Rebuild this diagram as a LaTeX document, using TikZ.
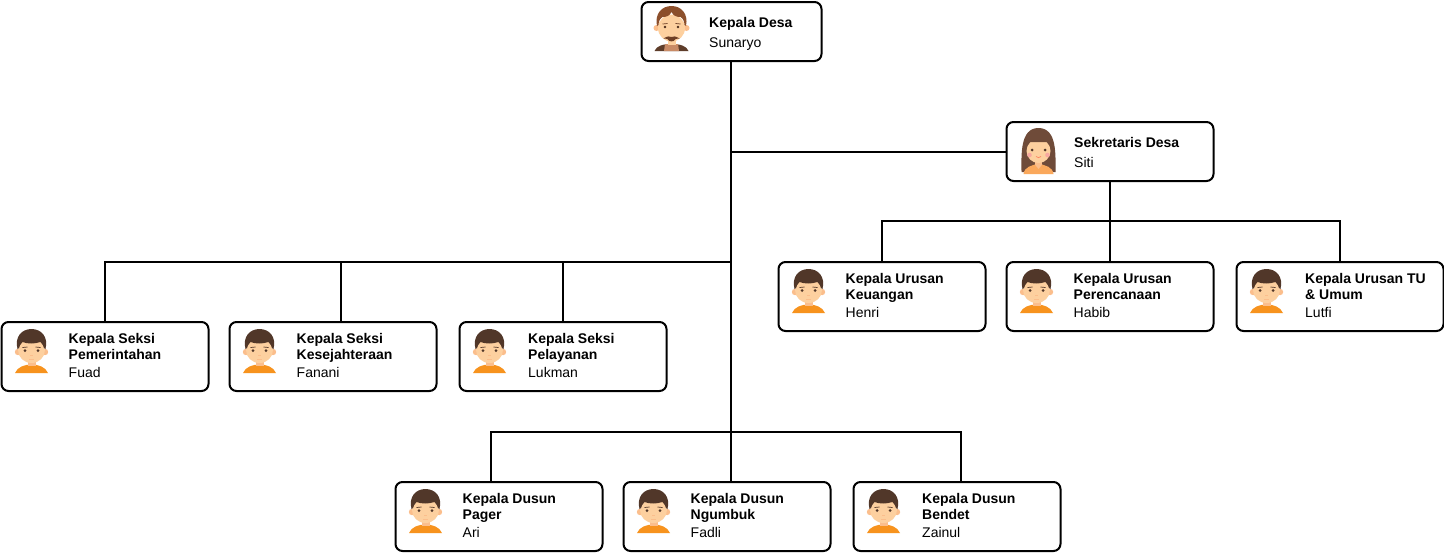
\documentclass[tikz,border=0pt]{standalone}
\usepackage{fontspec}
\setmainfont{Liberation Sans}
\usepackage{xcolor}
\usetikzlibrary{positioning}

\definecolor{skin}{HTML}{FDD09F}
\definecolor{skindark}{HTML}{FBBE8C}
\definecolor{hairboy}{HTML}{513729}
\definecolor{hairman}{HTML}{8C4F2B}
\definecolor{hairgirl}{HTML}{6F4B39}
\definecolor{beard}{HTML}{6E3F25}
\definecolor{jacket}{HTML}{5E3D2A}
\definecolor{vest}{HTML}{C98B66}
\definecolor{shirt}{HTML}{F7931E}
\definecolor{blouse}{HTML}{FAA85C}
\definecolor{cheek}{HTML}{F7A8A0}

\tikzset{
  box/.style={draw, line width=2pt, rounded corners=7pt, fill=white, minimum width=207pt, minimum height=69pt, inner sep=0pt, outer sep=0pt},
  shortbox/.style={box, minimum height=59pt},
  caption/.style={anchor=west, xshift=67pt, yshift=1pt, align=left, inner sep=0pt, font=\fontsize{14}{16}\selectfont},
  widecaption/.style={caption, xshift=1.5pt},
  shortcaption/.style={caption, xshift=.5pt, yshift=-2pt},
  wire/.style={line width=2pt},
  boy/.pic={
    \fill [shirt] (-16.5,22) .. controls (-14,16) and (-7,13.5) .. (0,13.5) .. controls (7,13.5) and (14,16) .. (16.5,22) -- cycle;
    \fill [skindark] (-4,8) rectangle (4,15);
    \fill [skindark] (-13.5,1) circle (3.2) (13.5,1) circle (3.2);
    \fill [skin] (0,-1) ellipse [x radius=13.5, y radius=13];
    \fill [hairboy] (-14,-2) .. controls (-17,-14) and (-10,-22) .. (0,-22) .. controls (10,-22) and (17,-14) .. (14,-2) -- (12.5,-3) .. controls (12,-5) and (11,-7) .. (9,-9) .. controls (3,-7) and (-4,-7) .. (-9,-9) .. controls (-11,-7) and (-12,-5) .. (-12.5,-3) -- cycle;
    \fill [hairboy] (-6.5,-.5) circle (1.5) (6.5,-.5) circle (1.5);
    \draw [hairboy, line width=.7pt] (-9,-3.5) -- (-4,-4) (9,-3.5) -- (4,-4);
    \fill [skindark] (-1.5,4) rectangle (1.5,5.2);
    \draw [skindark, line width=.7pt] (-2.5,8.5) -- (2.5,8.5);
  },
  man/.pic={
    \fill [jacket] (-17,22) .. controls (-15,17) and (-9,15) .. (0,15) .. controls (9,15) and (15,17) .. (17,22) -- cycle;
    \fill [vest] (-7.5,22) -- (-6.5,15) -- (6.5,15) -- (7.5,22) -- cycle;
    \fill [skin] (-4,8) rectangle (4,16);
    \fill [skindark] (-15,-1) circle (3) (15,-1) circle (3);
    \fill [skin] (0,-1) ellipse [x radius=13.5, y radius=13.5];
    \fill [hairman] (-14.5,-3) .. controls (-17,-15) and (-10,-23) .. (0,-23) .. controls (10,-23) and (17,-15) .. (14.5,-3) -- (13,-4) .. controls (13,-8) and (11,-11) .. (9,-12) .. controls (5,-12) and (2,-13) .. (0,-17) .. controls (-2,-13) and (-5,-12) .. (-9,-12) .. controls (-11,-11) and (-13,-8) .. (-13,-4) -- cycle;
    \fill [beard!70!black] (-6.5,-2) circle (1.4) (6.5,-2) circle (1.4);
    \draw [beard, line width=.7pt] (-9,-5) -- (-4,-5.5) (9,-5) -- (4,-5.5);
    \fill [beard] (-8,9.5) .. controls (-4,7) and (-2,7) .. (0,8) .. controls (2,7) and (4,7) .. (8,9.5) .. controls (5,9.5) and (4,10) .. (3.5,10.5) .. controls (3,13) and (-3,13) .. (-3.5,10.5) .. controls (-4,10) and (-5,9.5) .. (-8,9.5) -- cycle;
  },
  girl/.pic={
    \fill [hairgirl] (-17,21) .. controls (-17,5) and (-19,-23) .. (0,-23) .. controls (19,-23) and (17,5) .. (17,21) -- cycle;
    \fill [blouse] (-15,23) .. controls (-14,16) and (-7,14) .. (0,13) .. controls (7,14) and (14,16) .. (15,23) -- cycle;
    \fill [skindark] (-3.5,7) rectangle (3.5,14);
    \fill [skindark] (0,18) -- (-4,13) -- (4,13) -- cycle;
    \fill [skin] (0,0) ellipse [x radius=12, y radius=12];
    \fill [hairgirl] (-12.5,-2) .. controls (-12,-12) and (-6,-17) .. (0,-17) .. controls (6,-17) and (12,-12) .. (12.5,-2) -- (11,-9) -- (-11,-9) -- cycle;
    \fill [hairboy] (-6.5,-1) circle (1.5) (6.5,-1) circle (1.5);
    \fill [cheek] (-9,4) circle (2.3) (9,4) circle (2.3);
    \draw [skindark!70!red, line width=.7pt] (-2.5,5.5) .. controls (-1,7) and (1,7) .. (2.5,5.5);
  },
}

\begin{document}
\begin{tikzpicture}[x=1pt, y=-1pt, node distance=20pt]
\useasboundingbox (0,0) rectangle (1444,552);

% top of the tree
\node (sunaryo) [shortbox, minimum width=180pt] at (731.5,31.5) {};
\node (sunaryo text) [shortcaption, yshift=-1pt] at (sunaryo.west) {\textbf{Kepala Desa}\\[4pt]Sunaryo};
\pic at ([shift={(30pt,2.5pt)}]sunaryo.west) {man};

\node (siti) [shortbox] at (1110,151.5) {};
\node (siti text) [shortcaption] at (siti.west) {\textbf{Sekretaris Desa}\\[4pt]Siti};
\pic at ([shift={(32pt,.5pt)}]siti.west) {girl};

% urusan row
\node (habib) [box] at (1110,296.5) {};
\node (habib text) [caption] at (habib.west) {\textbf{Kepala Urusan}\\\textbf{Perencanaan}\\[2pt]Habib};
\pic at ([shift={(30pt,5.5pt)}]habib.west) {boy};

\node (henri) [box, left=21pt of habib] {};
\node (henri text) [caption] at (henri.west) {\textbf{Kepala Urusan}\\\textbf{Keuangan}\\[2pt]Henri};
\pic at ([shift={(30pt,5.5pt)}]henri.west) {boy};

\node (lutfi) [box, right=23pt of habib] {};
\node (lutfi text) [widecaption] at (lutfi.west) {\textbf{Kepala Urusan TU}\\\textbf{\& Umum}\\[2pt]Lutfi};
\pic at ([shift={(30pt,5.5pt)}]lutfi.west) {boy};

% seksi row
\node (fuad) [box] at (105,356.5) {};
\node (fuad text) [caption] at (fuad.west) {\textbf{Kepala Seksi}\\\textbf{Pemerintahan}\\[2pt]Fuad};
\pic at ([shift={(30pt,5.5pt)}]fuad.west) {boy};

\node (fanani) [box, right=21pt of fuad] {};
\node (fanani text) [caption] at (fanani.west) {\textbf{Kepala Seksi}\\\textbf{Kesejahteraan}\\[2pt]Fanani};
\pic at ([shift={(30pt,5.5pt)}]fanani.west) {boy};

\node (lukman) [box, right=23pt of fanani] {};
\node (lukman text) [widecaption] at (lukman.west) {\textbf{Kepala Seksi}\\\textbf{Pelayanan}\\[2pt]Lukman};
\pic at ([shift={(30pt,5.5pt)}]lukman.west) {boy};

% dusun row
\node (ari) [box] at (499,516.5) {};
\node (ari text) [caption] at (ari.west) {\textbf{Kepala Dusun}\\\textbf{Pager}\\[2pt]Ari};
\pic at ([shift={(30pt,5.5pt)}]ari.west) {boy};

\node (fadli) [box, right=21pt of ari] {};
\node (fadli text) [caption] at (fadli.west) {\textbf{Kepala Dusun}\\\textbf{Ngumbuk}\\[2pt]Fadli};
\pic at ([shift={(30pt,5.5pt)}]fadli.west) {boy};

\node (zainul) [box, right=23pt of fadli] {};
\node (zainul text) [widecaption] at (zainul.west) {\textbf{Kepala Dusun}\\\textbf{Bendet}\\[2pt]Zainul};
\pic at ([shift={(30pt,5.5pt)}]zainul.west) {boy};

\coordinate (trunk) at ([xshift=-.5pt]sunaryo.south);
\coordinate (seksi bus) at (731,262);
\coordinate (urusan bus) at (1110,221);
\coordinate (dusun bus) at (731,432);

\draw [wire] (trunk) |- ([yshift=-.5pt]siti.west);
\draw [wire] (trunk) -- (seksi bus) -| (fuad.north);
\draw [wire] (seksi bus) -| ([xshift=8pt]fanani.north);
\draw [wire] (seksi bus) -| (lukman.north);
\draw [wire] (trunk) -- ([xshift=4pt]fadli.north);
\draw [wire] (dusun bus) -| ([xshift=-8pt]ari.north);
\draw [wire] (dusun bus) -| ([xshift=4pt]zainul.north);
\draw [wire] (siti.south) -- (habib.north);
\draw [wire] (urusan bus) -| (henri.north);
\draw [wire] (urusan bus) -| (lutfi.north);

\end{tikzpicture}
\end{document}
